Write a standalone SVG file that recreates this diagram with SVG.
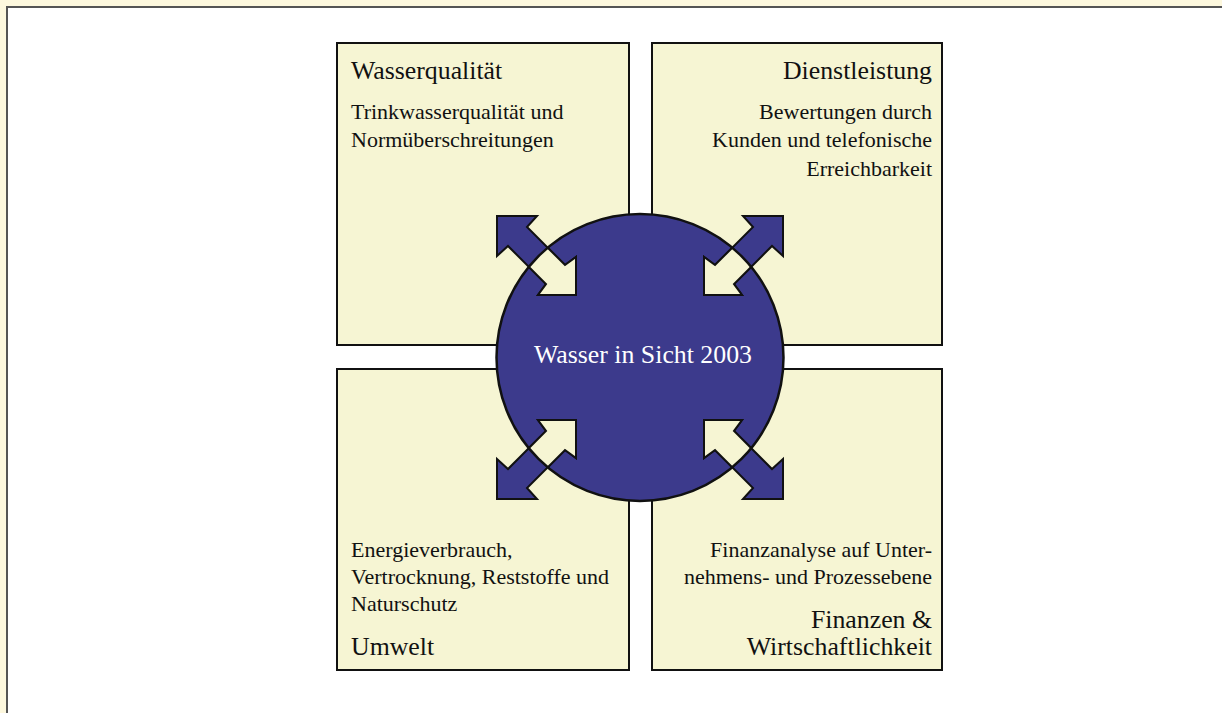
<svg xmlns="http://www.w3.org/2000/svg" xmlns:xlink="http://www.w3.org/1999/xlink" width="1222" height="713" viewBox="0 0 1222 713">
<style>
.box{fill:#f6f5d3;stroke:#111;stroke-width:2}
.t{font-family:"Liberation Serif","Times New Roman",serif;fill:#111}
.h{font-size:25.8px}
.b{font-size:22px}
.r{text-anchor:end}
.arrOut{fill:#3c3a8c;stroke:#111;stroke-width:2;stroke-linejoin:miter}
.arrIn{fill:#f6f5d3;stroke:#111;stroke-width:2;stroke-linejoin:miter}
</style>
<defs>
<polygon id="arr" points="497,216 537,216 527,227 565,265 576,257 576,295 538,295 546,284 508,246 497,256"/>
<clipPath id="inCircle"><circle cx="640" cy="357.5" r="143.5"/></clipPath>
</defs>
<rect x="0" y="0" width="1222" height="713" fill="#fdf8de"/>
<rect x="7" y="7" width="1300" height="800" fill="#ffffff" stroke="#555" stroke-width="2"/>

<g id="box-wasserqualitaet">
<rect class="box" x="337" y="43" width="292" height="302"/>
<text class="t h" x="351" y="79">Wasserqualität</text>
<text class="t b" x="351" y="119">Trinkwasserqualität und</text>
<text class="t b" x="351" y="147">Normüberschreitungen</text>
</g>
<g id="box-dienstleistung">
<rect class="box" x="652" y="43" width="290" height="302"/>
<text class="t h r" x="932" y="79">Dienstleistung</text>
<text class="t b r" x="932" y="119">Bewertungen durch</text>
<text class="t b r" x="932" y="147">Kunden und telefonische</text>
<text class="t b r" x="932" y="176">Erreichbarkeit</text>
</g>
<g id="box-umwelt">
<rect class="box" x="337" y="369" width="292" height="301"/>
<text class="t b" x="351" y="557">Energieverbrauch,</text>
<text class="t b" x="351" y="584">Vertrocknung, Reststoffe und</text>
<text class="t b" x="351" y="611">Naturschutz</text>
<text class="t h" x="351" y="655">Umwelt</text>
</g>
<g id="box-finanzen">
<rect class="box" x="652" y="369" width="290" height="301"/>
<text class="t b r" x="932" y="557">Finanzanalyse auf Unter-</text>
<text class="t b r" x="932" y="584">nehmens- und Prozessebene</text>
<text class="t h r" x="932" y="628">Finanzen &amp;</text>
<text class="t h r" x="932" y="655">Wirtschaftlichkeit</text>
</g>
<g id="center">
<circle cx="640" cy="357.5" r="143.5" fill="#3c3a8c"/>
</g>
<g id="connectors">
<use xlink:href="#arr" class="arrOut"/>
<use xlink:href="#arr" class="arrOut" transform="translate(1280,0) scale(-1,1)"/>
<use xlink:href="#arr" class="arrOut" transform="translate(0,715) scale(1,-1)"/>
<use xlink:href="#arr" class="arrOut" transform="translate(1280,715) scale(-1,-1)"/>
<g clip-path="url(#inCircle)">
<use xlink:href="#arr" class="arrIn"/>
<use xlink:href="#arr" class="arrIn" transform="translate(1280,0) scale(-1,1)"/>
<use xlink:href="#arr" class="arrIn" transform="translate(0,715) scale(1,-1)"/>
<use xlink:href="#arr" class="arrIn" transform="translate(1280,715) scale(-1,-1)"/>
</g>
</g>
<g id="center-outline">
<circle cx="640" cy="357.5" r="143.5" fill="none" stroke="#111" stroke-width="2.5"/>
<text class="t" x="643" y="363" font-size="25.8" style="fill:#ffffff" text-anchor="middle">Wasser in Sicht 2003</text>
</g>
</svg>
